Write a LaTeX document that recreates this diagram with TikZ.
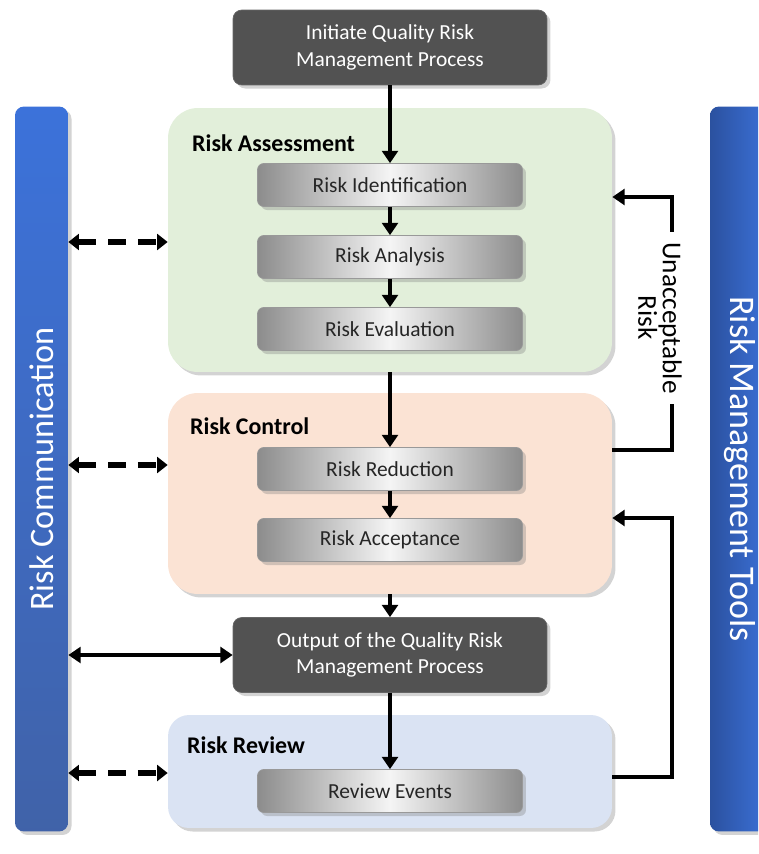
\documentclass[tikz,border=0pt]{standalone}
\usepackage{fontspec}
\setmainfont{Carlito}
\usetikzlibrary{arrows.meta,shadows}

\definecolor{assessgreen}{HTML}{E2EFDA}
\definecolor{controlorange}{HTML}{FBE3D4}
\definecolor{reviewblue}{HTML}{DAE3F3}
\definecolor{procgray}{HTML}{525252}
\definecolor{barlight}{HTML}{3C72DA}
\definecolor{bardark}{HTML}{2B519F}

\begin{document}
\begin{tikzpicture}[x=0.02cm,y=-0.02cm,
    every node/.style={font=\fontsize{12.2}{15}\selectfont},
    boxshadow/.style={drop shadow={shadow xshift=2pt,shadow yshift=-2pt,opacity=.35}},
    phase/.style={rounded corners=17pt,minimum width=8.88cm,boxshadow},
    phasetitle/.style={anchor=west,font=\bfseries\fontsize{13.6}{16}\selectfont},
    substep/.style={rounded corners=3.5pt,minimum width=5.3cm,minimum height=0.86cm,
        left color=gray!90,right color=gray!90,middle color=gray!8,draw=gray!80,
        text=black!85,boxshadow},
    procbox/.style={rounded corners=5pt,fill=procgray,draw=black!60,text=white,
        minimum width=6.28cm,minimum height=1.5cm,align=center,boxshadow},
    sidebar/.style={rounded corners=5pt,minimum width=14.5cm,minimum height=1.06cm,
        text=white,font=\fontsize{19.5}{22}\selectfont,boxshadow},
    flow/.style={-{Triangle[length=7pt,width=9pt]},line width=2.2pt},
    talk/.style={{Triangle[length=6pt,width=9pt]}-{Triangle[length=6pt,width=9pt]},
        line width=3pt,dash pattern=on 10pt off 7pt},
    link/.style={{Triangle[length=7pt,width=9pt]}-{Triangle[length=7pt,width=9pt]},line width=2.2pt},
  ]
  \path[use as bounding box,clip] (0,0) rectangle (758,854);

  % side bars
  \node[sidebar,rotate=90,top color=barlight,bottom color=bardark!90] (comm) at (41.5,469) {Risk Communication};
  \node[sidebar,rotate=-90,minimum height=1.2cm,left color=bardark,right color=barlight,
        font=\fontsize{20.5}{24}\selectfont] (tools) at (740,469) {Risk Management Tools};

  % phases
  \node[phase,fill=assessgreen,minimum height=5.28cm] (assess) at (390,240) {};
  \node[phase,fill=controlorange,minimum height=4.02cm] (control) at (390,493.5) {};
  \node[phase,fill=reviewblue,minimum height=2.26cm,rounded corners=12pt] (review) at (390,771.5) {};
  \node[phasetitle] (assesstitle) at (186,143) {Risk Assessment};
  \node[phasetitle] (controltitle) at (184,426) {Risk Control};
  \node[phasetitle] (reviewtitle) at (181,745) {Risk Review};

  % process boxes
  \node[procbox] (init) at (390,47.5) {Initiate Quality Risk\\Management Process};
  \node[procbox] (output) at (390,655) {Output of the Quality Risk\\Management Process};

  % steps
  \node[substep] (ident) at (390,185) {Risk Identification};
  \node[substep] (analysis) at (390,257) {Risk Analysis};
  \node[substep] (evalu) at (390,329) {Risk Evaluation};
  \node[substep] (reduce) at (390,469) {Risk Reduction};
  \node[substep] (accept) at (390,540) {Risk Acceptance};
  \node[substep] (revevt) at (390,791) {Review Events};

  % main flow
  \draw[flow] (init) -- (ident);
  \draw[flow] (ident) -- (analysis);
  \draw[flow] (analysis) -- (evalu);
  \draw[flow] (assess.south) -- (reduce);
  \draw[flow] (reduce) -- (accept);
  \draw[flow] (control.south) -- (output);
  \draw[flow] (output) -- (revevt);

  % feedback loops
  \coordinate (loopx) at (672,0);
  \draw[flow] (control.east |- 0,450) -- (loopx |- 0,450) -- (loopx |- 0,197) -- (assess.east |- 0,197);
  \draw[flow] (review.east |- 0,777) -- (loopx |- 0,777) -- (loopx |- 0,518) -- (control.east |- 0,518);
  \node[rotate=-90,fill=white,align=center,inner sep=6pt,font=\fontsize{15.5}{14}\selectfont] (unacc) at (660,318) {Unacceptable\\Risk};

  % communication
  \draw[talk] (comm.south |- 0,242) -- (assess.west |- 0,242);
  \draw[talk] (comm.south |- 0,465) -- (control.west |- 0,465);
  \draw[link] (comm.south |- output) -- (output.west);
  \draw[talk] (comm.south |- 0,773) -- (review.west |- 0,773);
\end{tikzpicture}
\end{document}
